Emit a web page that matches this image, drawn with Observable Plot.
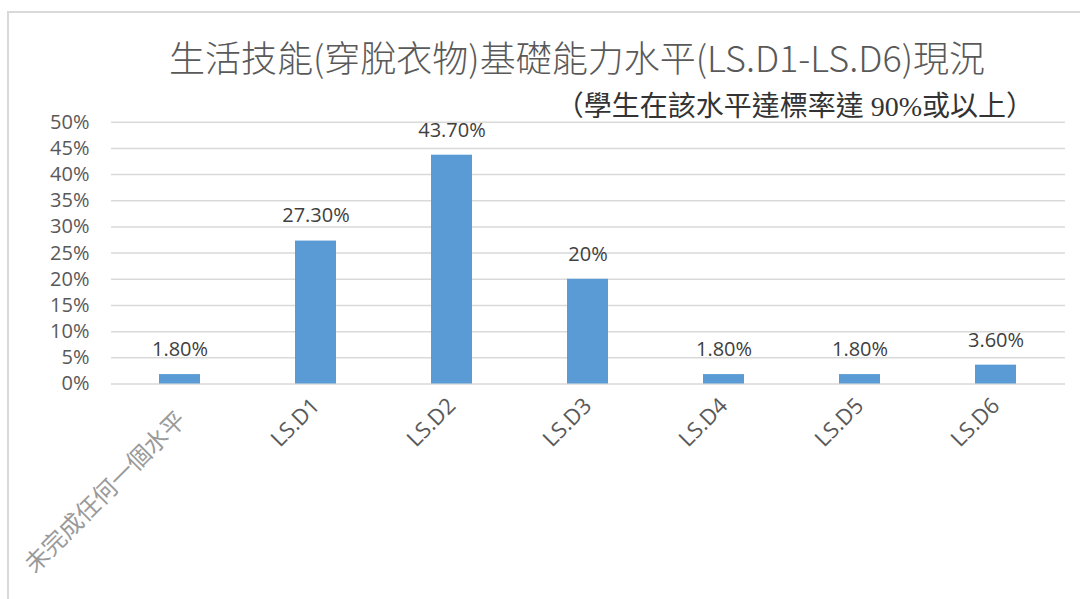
<!DOCTYPE html>
<html>
<head>
<meta charset="utf-8">
<script src="https://cdn.jsdelivr.net/npm/d3@7"></script>
<script src="https://cdn.jsdelivr.net/npm/@observablehq/plot@0.6"></script>
<style>
  html, body { margin: 0; padding: 0; background: #fff; }
  #wrap { position: relative; width: 1080px; height: 599px; overflow: hidden; }
  #frame { position: absolute; left: 7px; top: 11px; width: 1100px; height: 620px;
           border-left: 2px solid #d9d9d9; border-top: 2px solid #d9d9d9; box-sizing: border-box; }
  #header { position: relative; height: 90px; }
  #title { position: absolute; left: 577px; top: 35px; transform: translateX(-50%);
           white-space: nowrap; font-family: "Noto Sans CJK TC", "Noto Sans", sans-serif;
           font-size: 36px; line-height: 42px; color: #595959; font-weight: 300; }
  #subtitle { position: absolute; right: 46px; top: 91px; white-space: nowrap;
              font-family: "Liberation Serif", "Noto Sans CJK TC", serif;
              font-size: 28px; line-height: 32px; color: #333; z-index: 2; }
  #chart { position: relative; }
</style>
</head>
<body>
<div id="wrap">
  <div id="frame"></div>
  <div id="header">
    <div id="title">生活技能(穿脫衣物)基礎能力水平(LS.D1-LS.D6)現況</div>
  </div>
  <div id="subtitle">（學生在該水平達標率達 90%或以上）</div>
  <div id="chart"></div>
</div>
<script>
const categories = ["未完成任何一個水平", "LS.D1", "LS.D2", "LS.D3", "LS.D4", "LS.D5", "LS.D6"];
const values = [1.8, 27.3, 43.7, 20, 1.8, 1.8, 3.6];
const valueLabels = ["1.80%", "27.30%", "43.70%", "20%", "1.80%", "1.80%", "3.60%"];
const yTicks = [0, 5, 10, 15, 20, 25, 30, 35, 40, 45, 50];

const data = categories.map((c, i) => ({cat: c, value: values[i], label: valueLabels[i]}));

const chart = Plot.plot({
  width: 1080,
  height: 509,
  marginTop: 31.7,
  marginBottom: 215.5,
  marginLeft: 111,
  marginRight: 15,
  style: {color: "#595959", fontFamily: "'Open Sans', 'Noto Sans CJK TC', sans-serif", background: "transparent"},
  x: {type: "band", domain: categories, paddingInner: 0.695, paddingOuter: 0.3475, label: null},
  y: {domain: [0, 50], label: null},
  marks: [
    Plot.gridY(yTicks, {stroke: "#d9d9d9", strokeOpacity: 1, strokeWidth: 1.5}),
    Plot.barY(data, {x: "cat", y: "value", fill: "#5B9BD5"}),
    Plot.text(data, {x: "cat", y: "value", text: "label", dy: -25, fontSize: 20, fill: "#404040"}),
    Plot.axisY(yTicks, {tickSize: 0, tickPadding: 22, tickFormat: d => d + "%", fontSize: 20, label: null}),
    Plot.axisX(categories.slice(0, 1), {tickRotate: -45, tickSize: 0, tickPadding: 32, dx: 2, fontSize: 24, fill: "#9a9a9a", label: null}),
    Plot.axisX(categories.slice(1), {tickRotate: -45, tickSize: 0, tickPadding: 18, fontSize: 22, label: null})
  ]
});
document.getElementById("chart").appendChild(chart);
</script>
</body>
</html>
